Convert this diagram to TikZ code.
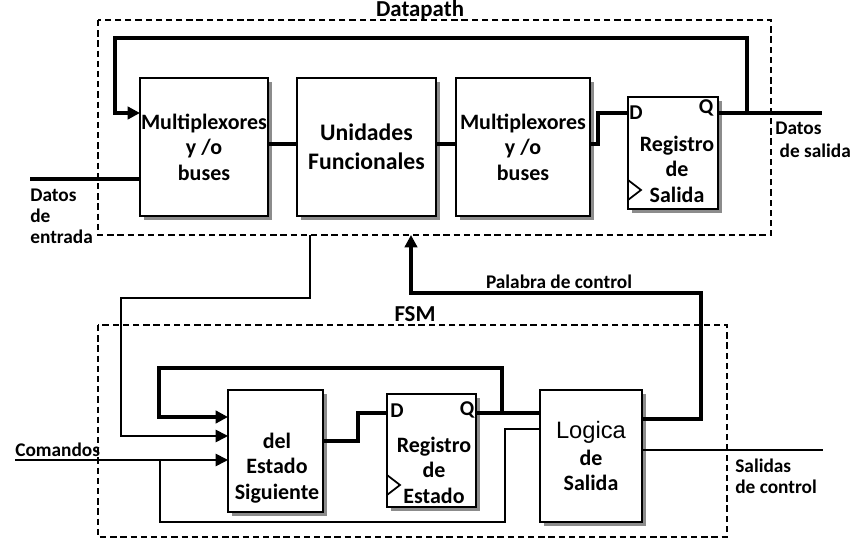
\documentclass[tikz,border=0pt]{standalone}
\usepackage{fontspec}
\setmainfont{Carlito}
\newfontfamily\helv{Liberation Sans}
\usepackage{tikz}
\usetikzlibrary{arrows.meta,positioning,shadows}

\tikzset{
  bloque/.style={draw, line width=1.3pt, fill=white, inner sep=0pt,
    drop shadow={shadow xshift=2.2pt, shadow yshift=-2.2pt, fill=black!45, opacity=1},
    font=\bfseries\fontsize{12.5}{14.5}\selectfont, align=center},
  marco/.style={draw, line width=1.1pt, dash pattern=on 3.6pt off 2.2pt},
  gruesa/.style={line width=2.3pt},
  fina/.style={line width=1pt},
  flecha/.style={-{Triangle[length=7pt,width=7pt]}},
  etiq/.style={font=\bfseries\fontsize{11}{13}\selectfont, align=left, inner sep=0pt},
  texto/.style={font=\bfseries\fontsize{12.5}{14.5}\selectfont, align=center, inner sep=0pt},
  pin/.style={font=\bfseries\fontsize{12}{14}\selectfont, inner sep=0pt},
}

\begin{document}
\begin{tikzpicture}[x=0.02cm, y=-0.02cm]
\useasboundingbox (0,0) rectangle (850,540);

\draw[marco] (98,20) rectangle (771,235);
\draw[marco] (98,325) rectangle (727,537);
\node[texto, font=\bfseries\fontsize{13}{15}\selectfont] (tdp) at (420,10) {Datapath};
\node[texto, font=\bfseries\fontsize{13}{15}\selectfont] (tfsm) at (415,314) {FSM};

\node[bloque, minimum width=2.56cm, minimum height=2.76cm] (mux1) at (204,147) {Multiplexores\\y /o\\buses};
\node[bloque, minimum width=2.78cm, minimum height=2.76cm, font=\bfseries\fontsize{13.5}{16.5}\selectfont] (unid) at (366.5,147) {Unidades\\Funcionales};
\node[bloque, minimum width=2.68cm, minimum height=2.76cm] (mux2) at (523,147) {Multiplexores\\y /o\\buses};
\node[bloque, minimum width=1.8cm, minimum height=2.24cm] (regs) at (673,153) {};
\node[texto] (regst) at (677,169) {Registro\\de\\Salida};
\node[pin] (regsd) at (636,113) {D};
\node[pin] (regsq) at (706,108) {Q};
\draw[fina] (628,180) -- (641,190) -- (628,200);

\node[bloque, minimum width=1.9cm, minimum height=2.44cm] (sig) at (275.5,451) {};
\node[texto] (sigt) at (277,468) {del\\Estado\\Siguiente};
\node[bloque, minimum width=1.78cm, minimum height=2.26cm] (rege) at (431.5,450.5) {};
\node[texto] (reget) at (434,470) {Registro\\de\\Estado};
\node[pin] (reged) at (397,411) {D};
\node[pin] (regeq) at (467,410) {Q};
\draw[fina] (387,475) -- (400,485) -- (387,495);
\node[bloque, minimum width=2.04cm, minimum height=2.64cm] (logica) at (591,456) {{\mdseries\helv\fontsize{13.5}{16}\selectfont Logica}\\[1pt]de\\Salida};

\coordinate (rq) at (718,113);
\coordinate (rd) at (628,113);
\coordinate (nudo) at (747,113);
\coordinate (dsal) at (822,113);
\coordinate (m1fb) at (140,113);
\coordinate (m1in) at (140,179);
\coordinate (dent) at (30,179);
\coordinate (m1out) at (268,144);
\coordinate (uin) at (297,144);
\coordinate (uout) at (436,144);
\coordinate (m2in) at (456,144);
\coordinate (m2out) at (590,144);
\draw[gruesa] (rq) -- (dsal);
\draw[gruesa, flecha] (nudo) -- (747,38) -| (115,113) -- (m1fb);
\draw[gruesa] (dent) -- (m1in);
\draw[gruesa] (m1out) -- (uin);
\draw[gruesa] (uout) -- (m2in);
\draw[gruesa] (m2out) -- ++(8,0) |- (rd);

\node[etiq] (tent) at (30,216) [anchor=west] {Datos\\[-1pt]de\\[-1pt]entrada};
\node[etiq] (tsal) at (775,140) [anchor=west] {Datos\\\ de salida};

\coordinate (ub) at (310,235);
\coordinate (s1) at (228,417);
\coordinate (s2) at (228,436);
\coordinate (s3) at (228,460);
\draw[fina, flecha] (ub) |- (121,298) |- (s2);

\coordinate (lsal) at (642,419);
\coordinate (dpin) at (411,235);
\draw[gruesa, flecha] (lsal) -| (701,293) -| (dpin);
\node[etiq] (tpal) at (559,282) {Palabra de control};

\coordinate (eq) at (476,413);
\coordinate (ed) at (387,413);
\coordinate (lin1) at (540,413);
\coordinate (lin2) at (540,429);
\coordinate (nudoe) at (502,413);
\coordinate (sout) at (323,441);
\coordinate (com) at (15,460);
\coordinate (nudoc) at (160,460);
\draw[gruesa] (eq) -- (lin1);
\draw[gruesa, flecha] (nudoe) |- (159,368) |- (s1);
\draw[fina, flecha] (com) -- (s3);
\draw[fina] (nudoc) |- (505,522) |- (lin2);
\draw[gruesa] (sout) -- (358,441) |- (ed);
\draw[fina] (642,450) -- (823,450);

\node[etiq] (tcom) at (15,450) [anchor=west] {Comandos};
\node[etiq] (tctl) at (735,476) [anchor=west] {Salidas\\[-1pt]de control};
\end{tikzpicture}
\end{document}
